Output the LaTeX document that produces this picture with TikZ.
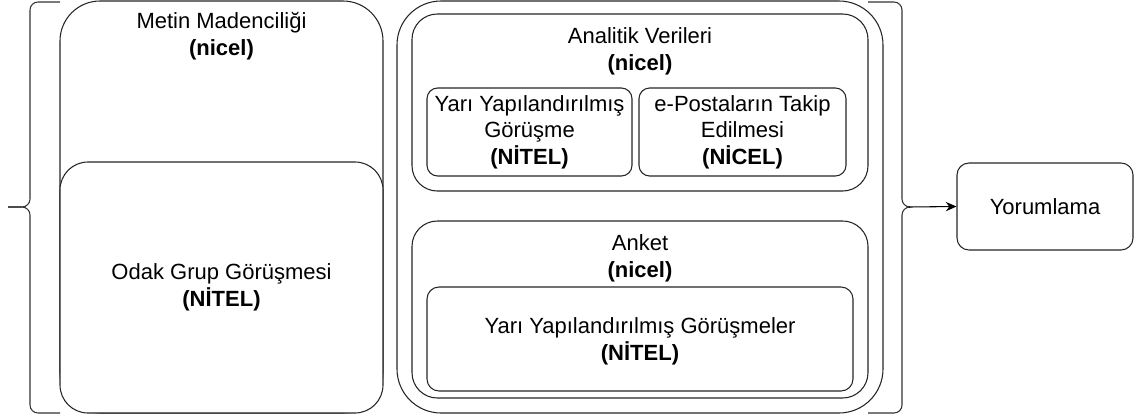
\documentclass[tikz,border=0pt]{standalone}
\usepackage{fontspec}
\setmainfont{Liberation Sans}
\usetikzlibrary{fit,arrows.meta}
\begin{document}
\begin{tikzpicture}[x=0.75pt,y=-0.75pt,
  box/.style={draw=black!85,line width=0.8pt,fill=white,inner sep=0pt},
  txt/.style={align=center,font=\fontsize{16.5}{20}\selectfont,inner sep=0pt},
  brace/.style={draw=black!80,line width=0.8pt,rounded corners=6pt},
  link/.style={draw=black,line width=0.8pt,-{Stealth[length=8pt,width=7pt]}}]
\useasboundingbox (0,0) rectangle (1139,418);

% left column
\node[box,rounded corners=30pt,fit={(60,1) (383,413)}] (metin) {};
\node[box,rounded corners=21pt,fit={(60,162) (383,413)}] (odak) {};
\node[txt] (metinT) at (221.5,36) {Metin Madenciliği\\\textbf{(nicel)}};
\node[txt] (odakT) at (221.5,287) {Odak Grup Görüşmesi\\\textbf{(NİTEL)}};

% right column
\node[box,rounded corners=33pt,fit={(397,1) (883,413)}] (outer) {};
\node[box,rounded corners=19pt,fit={(412,14) (868,191)}] (analitik) {};
\node[txt] (analitikT) at (640,51.5) {Analitik Verileri\\\textbf{(nicel)}};
\node[box,rounded corners=8pt,fit={(427,88) (632,176)}] (yari) {};
\node[txt] (yariT) at (529.5,132) {Yarı Yapılandırılmış\\Görüşme\\\textbf{(NİTEL)}};
\node[box,rounded corners=8pt,fit={(639,88) (846,176)}] (eposta) {};
\node[txt] (epostaT) at (742.5,132) {e-Postaların Takip\\Edilmesi\\\textbf{(NİCEL)}};

\node[box,rounded corners=19pt,fit={(412,221) (868,398)}] (anket) {};
\node[txt] (anketT) at (640,258.5) {Anket\\\textbf{(nicel)}};
\node[box,rounded corners=9pt,fit={(427,287) (853,391)}] (gorusme) {};
\node[txt] (gorusmeT) at (640,341) {Yarı Yapılandırılmış Görüşmeler\\\textbf{(NİTEL)}};

% result
\node[box,rounded corners=9pt,fit={(957,163) (1133,250)}] (yorum) {};
\node[txt] (yorumT) at (1045,207) {Yorumlama};

% braces
\coordinate (ltip) at (8,207);
\coordinate (rtip) at (909,207);
\draw[brace] (60,2) -- (30,2) -- (30,207) -- (ltip);
\draw[brace] (60,413) -- (30,413) -- (30,207) -- (ltip);
\draw[brace] (868,2) -- (902,2) -- (902,207) -- (rtip);
\draw[brace] (868,413) -- (902,413) -- (902,207) -- (rtip);
\draw[link] (rtip) -- (yorum.west);
\end{tikzpicture}
\end{document}
